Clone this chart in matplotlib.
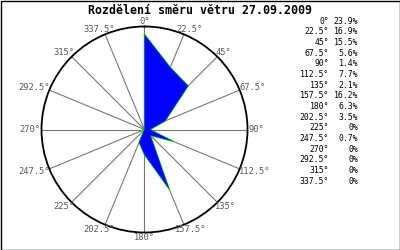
import numpy as np
import matplotlib
matplotlib.use("Agg")
import matplotlib.pyplot as plt
from matplotlib.patches import Rectangle

directions = [0, 22.5, 45, 67.5, 90, 112.5, 135, 157.5, 180, 202.5, 225, 247.5, 270, 292.5, 315, 337.5]
dir_labels = ["0°", "22.5°", "45°", "67.5°", "90°", "112.5°", "135°", "157.5°", "180°",
              "202.5°", "225°", "247.5°", "270°", "292.5°", "315°", "337.5°"]
percent = [23.9, 16.9, 15.5, 5.6, 1.4, 7.7, 2.1, 16.2, 6.3, 3.5, 0, 0.7, 0, 0, 0, 0]
pct_labels = ["23.9%", "16.9%", "15.5%", "5.6%", "1.4%", "7.7%", "2.1%", "16.2%", "6.3%",
              "3.5%", "0%", "0.7%", "0%", "0%", "0%", "0%"]
title = "Rozdělení směru větru 27.09.2009"

W, H = 400, 250
fig = plt.figure(figsize=(W / 100, H / 100), dpi=100)
mono = "DejaVu Sans Mono"

cx, cy, R = 144.5, 129.5, 103
ax = fig.add_axes([(cx - R) / W, (H - cy - R) / H, 2 * R / W, 2 * R / H], projection="polar")
ax.set_theta_zero_location("N")
ax.set_theta_direction(-1)
rmax = 25.9
ax.set_ylim(0, rmax)
ax.set_yticks([])
th = np.radians(directions)
ax.set_xticks(th)
ax.set_xticklabels([])
ax.tick_params(axis="x", length=0, pad=0)
ax.xaxis.grid(True, color="#777777", linewidth=0.8)
ax.yaxis.grid(False)
ax.spines["polar"].set_linewidth(1.3)
ax.spines["polar"].set_color("black")
ax.set_facecolor("white")

tc = np.append(th, th[0])
rc = np.append(percent, percent[0])
ax.plot(tc, rc, color="#00dd00", linewidth=1.0, zorder=3)
ax.fill(tc, rc, color="#0000ff", linewidth=0, zorder=4)

# direction labels around the circle
for t, lab in zip(th, dir_labels):
    s, c = np.sin(t), np.cos(t)
    w = len(lab) * 5.0
    h = 8
    gap = 1.5
    dx = s * (gap + w / 2)
    dy = c * (gap + h / 2)
    ax.annotate(lab, xy=(t, rmax), xytext=(dx, dy), textcoords="offset pixels",
                ha="center", va="center", fontsize=6.3, family=mono, color="#555555",
                annotation_clip=False)

fig.text(0.5, 1 - 10 / H, title, ha="center", va="center", fontsize=8.4,
         fontweight="bold", family=mono, color="black")

for i, (dl, pl) in enumerate(zip(dir_labels, pct_labels)):
    y = 1 - (21 + i * 10.67) / H
    fig.text(329 / W, y, dl, ha="right", va="center", fontsize=5.9, family=mono, color="black")
    fig.text(358 / W, y, pl, ha="right", va="center", fontsize=5.9, family=mono, color="black")

fig.add_artist(Rectangle((0.5 / W, 0.5 / H), 1 - 1 / W, 1 - 1 / H, fill=False,
                         edgecolor="black", linewidth=1.0, transform=fig.transFigure))

fig.savefig("out.png", dpi=100, facecolor="white")
